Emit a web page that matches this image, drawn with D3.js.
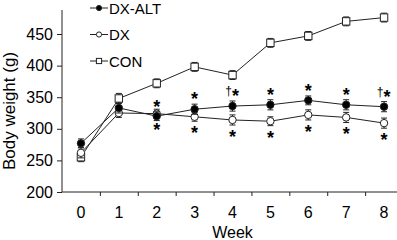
<!DOCTYPE html>
<html><head><meta charset="utf-8">
<script src="https://cdn.jsdelivr.net/npm/d3@7"></script>
<style>html,body{margin:0;padding:0;background:#fff;overflow:hidden}svg{display:block;font-family:Arial,"Liberation Sans",sans-serif}</style>
</head><body><svg id="c" width="397" height="240"></svg>
<script>
const weeks = [0,1,2,3,4,5,6,7,8];
const dxaltMean = [277,333,320,331,336,338,345,338,335];
const dxaltErr  = [7,8,7,8,8,8,7,8,8];
const dxMean    = [262,325,324,319,314,312,322,318,309];
const dxErr     = [8,7,7,7,8,7,8,8,8];
const conMean   = [255,348,372,398,385,436,447,470,476];
const conErr    = [7,8,7,7,7,7,7,7,7];
const starAboveWeeks = [2,3,4,5,6,7,8];
const daggerWeeks = [4,8];
const starBelowWeeks = [2,3,4,5,6,7,8];
const yTicks = [200,250,300,350,400,450];
const seriesNames = ["DX-ALT","DX","CON"];

const svg = d3.select("#c");
const x = d3.scaleLinear().domain([-0.5,8.5]).range([62,403]);
const y = d3.scaleLinear().domain([200,488]).range([192,10]);
const col = "#222";

// axes
const ya = svg.append("g").attr("transform","translate(62,0)")
  .call(d3.axisLeft(y).tickValues(yTicks).tickSize(5).tickPadding(4));
ya.select(".domain").attr("d","M-0,192V10").attr("stroke",col);
ya.selectAll("line").attr("stroke",col);
ya.selectAll("text").attr("font-size",16).attr("fill","#000");

const xa = svg.append("g").attr("transform","translate(0,192)")
  .call(d3.axisBottom(x).tickValues(d3.range(0.5,8.6,1)).tickSize(4).tickFormat(""));
xa.select(".domain").attr("d","M62,0H403").attr("stroke",col);
xa.selectAll("line").attr("stroke",col);
svg.append("g").selectAll("text").data(weeks).join("text")
  .attr("x",d=>x(d)).attr("y",218).attr("text-anchor","middle")
  .attr("font-size",16).text(d=>d);
svg.append("text").attr("x",x(4)).attr("y",238).attr("text-anchor","middle")
  .attr("font-size",16).text("Week");
svg.append("text").attr("transform","translate(15,111) rotate(-90)")
  .attr("text-anchor","middle").attr("font-size",17).text("Body weight (g)");

const series = [
  {name:seriesNames[0], m:dxaltMean, e:dxaltErr, shape:"fc"},
  {name:seriesNames[1], m:dxMean, e:dxErr, shape:"oc"},
  {name:seriesNames[2], m:conMean, e:conErr, shape:"sq"}
];
const line = d3.line().x((d,i)=>x(weeks[i])).y(d=>y(d));

function marker(g, cx, cy, shape, s){
  if(shape==="sq"){
    g.append("rect").attr("x",cx-s).attr("y",cy-s).attr("width",2*s).attr("height",2*s)
      .attr("fill","#fff").attr("stroke",col).attr("stroke-width",1);
  } else {
    g.append("circle").attr("cx",cx).attr("cy",cy).attr("r",s)
      .attr("fill",shape==="fc"?"#000":"#fff").attr("stroke",col).attr("stroke-width",1);
  }
}

[series[2],series[1],series[0]].forEach(s=>{
  const g = svg.append("g");
  g.append("path").attr("d",line(s.m)).attr("fill","none").attr("stroke",col).attr("stroke-width",1);
  s.m.forEach((v,i)=>{
    const cx = x(weeks[i]), t = y(v+s.e[i]), b = y(v-s.e[i]);
    g.append("line").attr("x1",cx).attr("x2",cx).attr("y1",t).attr("y2",b).attr("stroke",col);
    g.append("line").attr("x1",cx-3).attr("x2",cx+3).attr("y1",t).attr("y2",t).attr("stroke",col);
    g.append("line").attr("x1",cx-3).attr("x2",cx+3).attr("y1",b).attr("y2",b).attr("stroke",col);
  });
  s.m.forEach((v,i)=>marker(g, x(weeks[i]), y(v), s.shape, 3.7));
});

// significance marks
const ann = svg.append("g").attr("font-size",18).attr("font-weight","bold").attr("text-anchor","middle").attr("fill","#000");
starAboveWeeks.forEach(w=>{
  const i = weeks.indexOf(w);
  const hasD = daggerWeeks.includes(w);
  ann.append("text").attr("x",x(w)+(hasD?3:0)).attr("y",y(dxaltMean[i]+dxaltErr[i])+1).text("*");
  if(hasD) svg.append("text").attr("x",x(w)-4).attr("y",y(dxaltMean[i]+dxaltErr[i])-6)
    .attr("font-size",12).attr("fill","#000").attr("text-anchor","middle").text("\u2020");
});
starBelowWeeks.forEach(w=>{
  const i = weeks.indexOf(w);
  ann.append("text").attr("x",x(w)).attr("y",y(dxMean[i]-dxErr[i])+18).text("*");
});

// legend
const lg = svg.append("g");
series.forEach((s,k)=>{
  const ly = 8 + k*26.5;
  lg.append("line").attr("x1",90).attr("x2",108).attr("y1",ly).attr("y2",ly).attr("stroke",col);
  marker(lg, 99, ly, s.shape, 2.6);
  lg.append("text").attr("x",109).attr("y",ly+5.5).attr("font-size",15).text(s.name);
});
</script></body></html>
